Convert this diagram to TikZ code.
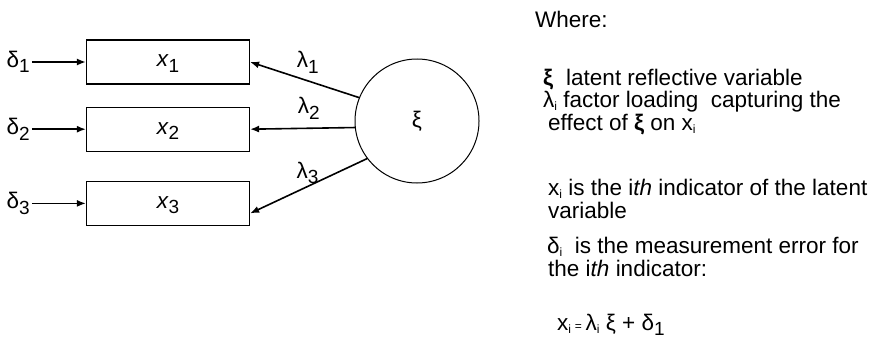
\documentclass[tikz,border=0pt]{standalone}
\usepackage{fontspec}
\setmainfont{Liberation Sans}
\usetikzlibrary{positioning,arrows.meta}
\newcommand{\lsub}[1]{\raisebox{-5.5pt}{\fontsize{19}{19}\selectfont #1}}
\newcommand{\tsub}[1]{\raisebox{-3.5pt}{\fontsize{12}{12}\selectfont #1}}

\begin{document}
\begin{tikzpicture}[x=1pt,y=-1pt,font=\fontsize{22.5}{26}\selectfont,>={Latex[length=9pt,width=7pt]},
  ind/.style={draw,line width=1.2pt,minimum width=163pt,minimum height=44pt,inner sep=0pt,text depth=2pt},
  lat/.style={draw,circle,line width=1pt,minimum size=124pt,inner sep=0pt},
  err/.style={inner sep=2pt},
  lbl/.style={inner sep=1pt},
  load/.style={->,line width=1.6pt},
  txt/.style={anchor=base west,inner sep=0pt}]
  \useasboundingbox (0,0) rectangle (877,345);
  % indicators and errors
  \node[ind] (x1) at (168,62) {\textit{x}\lsub{1}};
  \node[ind,below=22pt of x1] (x2) {\textit{x}\lsub{2}};
  \node[ind,below=29pt of x2] (x3) {\textit{x}\lsub{3}};
  \node[err,left=54pt of x1] (d1) {δ\lsub{1}};
  \node[err,left=54pt of x2] (d2) {δ\lsub{2}};
  \node[err,left=54pt of x3] (d3) {δ\lsub{3}};
  \draw[load] (d1) -- (x1); \draw[load] (d2) -- (x2); \draw[load] (d3) -- (x3);
  % latent variable
  \node[lat] (xi) at (417,121) {ξ};
  \draw[load] (xi.158) -- (x1.east) node[lbl,pos=0.47,above=6pt] (l1) {λ\lsub{1}};
  \draw[load] (xi.186) -- (x2.east) node[lbl,pos=0.44,above=7pt] (l2) {λ\lsub{2}};
  \draw[load] (xi.217) -- ([yshift=-10pt]x3.east) node[lbl,pos=0.51,above=1pt] (l3) {λ\lsub{3}};
  % legend
  \node[txt] (where) at (535,28) {Where:};
  \node[txt] (t1) at (543,85) {\textbf{ξ}\hspace{13pt}latent reflective variable};
  \node[txt] (t2) at (543,107) {λ\tsub{i} factor loading\ \ capturing the};
  \node[txt] (t3) at (548,130) {effect of \textbf{ξ} on x\tsub{i}};
  \node[txt] (t4) at (548,195) {x\tsub{i} is the i\textit{th} indicator of the latent};
  \node[txt] (t5) at (548,218) {variable};
  \node[txt] (t6) at (547,253) {δ\tsub{i}\ \ is the measurement error for};
  \node[txt] (t7) at (548,276) {the i\textit{th} indicator:};
  \node[txt] (eq) at (557,330) {x\tsub{i}\,{\fontsize{12}{12}\selectfont =}\,λ\tsub{i} ξ + δ\lsub{1}};
\end{tikzpicture}
\end{document}
